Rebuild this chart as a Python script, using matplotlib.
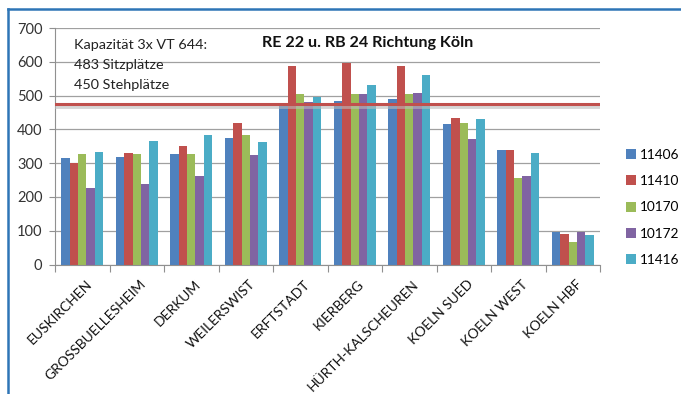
import matplotlib
matplotlib.use("Agg")
import matplotlib.pyplot as plt
from matplotlib.lines import Line2D
from matplotlib.patches import Patch
import numpy as np

plt.rcParams['font.family'] = ['Lato', 'DejaVu Sans']

categories = ["EUSKIRCHEN", "GROSSBUELLESHEIM", "DERKUM", "WEILERSWIST", "ERFTSTADT",
              "KIERBERG", "HÜRTH-KALSCHEUREN", "KOELN SUED", "KOELN WEST", "KOELN HBF"]
series_names = ["11406", "11410", "10170", "10172", "11416"]
s11406 = [314, 317, 327, 374, 474, 484, 490, 416, 340, 97]
s11410 = [301, 330, 351, 420, 588, 596, 589, 434, 338, 90]
s10170 = [326, 326, 326, 382, 504, 504, 504, 418, 255, 67]
s10172 = [225, 238, 263, 324, 481, 504, 508, 372, 262, 97]
s11416 = [332, 367, 382, 364, 495, 532, 560, 431, 330, 87]
capacity = 475
yticks = [0, 100, 200, 300, 400, 500, 600, 700]
title = "RE 22 u. RB 24 Richtung Köln"
note_lines = ["Kapazität 3x VT 644:", "483 Sitzplätze", "450 Stehplätze"]

colors = ["#4F81BD", "#C0504D", "#9BBB59", "#8064A2", "#4BACC6"]
series = [s11406, s11410, s10170, s10172, s11416]

W, H = 681, 394
fig = plt.figure(figsize=(W / 100, H / 100), dpi=100)
ax = fig.add_axes([55 / W, (H - 264.5) / H, (600 - 55) / W, (264.5 - 28) / H])

x = np.arange(len(categories))
bw = 0.154
for i, (vals, c) in enumerate(zip(series, colors)):
    ax.bar(x + (i - 2) * bw, vals, width=bw, color=c, zorder=2, label=series_names[i])

ax.set_xlim(-0.5, len(categories) - 0.5)
ax.set_ylim(0, 700)
ax.set_yticks(yticks)
ax.set_yticklabels([str(v) for v in yticks], fontsize=10.5, color="#333333")
ax.yaxis.grid(True, color="#A0A0A0", linewidth=0.9, zorder=0)
ax.set_axisbelow(True)
for s in ["top", "right"]:
    ax.spines[s].set_visible(False)
for s in ["left", "bottom"]:
    ax.spines[s].set_color("#909090")
ax.tick_params(axis="y", length=4, color="#909090", pad=5)

# category boundary ticks
ax.set_xticks(np.arange(-0.5, len(categories) + 0.5, 1.0))
ax.set_xticklabels([])
ax.tick_params(axis="x", length=5, color="#909090")
for xi, lab in zip(x, categories):
    ax.text(xi + 0.06, -40, lab, rotation=45, ha="right", va="top",
            rotation_mode="anchor", fontsize=10, color="#111111",
            transform=ax.transData, clip_on=False)

# capacity line with shadow
ax.axhline(capacity - 5, color="#BBBBBB", linewidth=3.5, alpha=0.6, zorder=3)
ax.axhline(capacity, color="#C0504D", linewidth=2.2, zorder=4)

fig.text(368 / W, 1 - 43 / H, title, ha="center", va="center", fontsize=11.6,
         fontweight="bold", color="#111111")
for k, line in enumerate(note_lines):
    fig.text(74 / W, 1 - (45 + 20 * k) / H, line, ha="left", va="center",
             fontsize=10.4, color="#222222")

handles = [Patch(facecolor=c, edgecolor="none") for c in colors]
leg = fig.legend(handles, series_names, loc="upper left",
                 bbox_to_anchor=(615 / W, 1 - 138 / H), frameon=False,
                 fontsize=9.8, handlelength=0.75, handleheight=0.75,
                 handletextpad=0.3, labelspacing=1.05, borderpad=0.3)

# frame
fig.add_artist(Line2D([8 / W, 1], [1 - 9 / H, 1 - 9 / H], transform=fig.transFigure,
                      color="#2E75B6", linewidth=1.8))
fig.add_artist(Line2D([8 / W, 8 / W], [0, 1 - 9 / H], transform=fig.transFigure,
                      color="#2E75B6", linewidth=1.8))

fig.savefig("out.png", dpi=100)
